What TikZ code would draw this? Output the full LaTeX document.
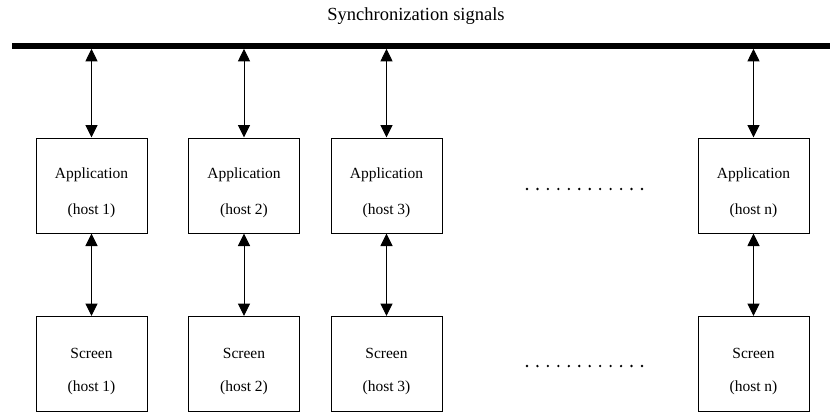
\documentclass[tikz,border=0pt]{standalone}
\usepackage{fontspec}
\setmainfont{Liberation Serif}
\usetikzlibrary{arrows.meta}

\begin{document}
\begin{tikzpicture}[x=1pt,y=-1pt,
  hostbox/.style={draw=black,line width=1pt,minimum width=111pt,minimum height=95pt,inner sep=0pt},
  boxtext/.style={anchor=base,inner sep=0pt,font=\fontsize{15.5}{18}\selectfont},
  link/.style={line width=1pt,{Triangle[length=12.5pt,width=12pt]}-{Triangle[length=12.5pt,width=12pt]}},
  bus/.style={line width=5.5pt},
  dotmark/.style={fill=black}]
  \useasboundingbox (0,0) rectangle (830,413);

  % title above the bus
  \node[anchor=base,inner sep=0pt,font=\fontsize{18.5}{22}\selectfont] (title) at (416,20) {Synchronization signals};

  % synchronization bus
  \coordinate (busL) at (12,46);
  \coordinate (busR) at (830,46);
  \draw[bus] (busL) -- (busR);

  % one column per host: application box over screen box
  \foreach \x/\h in {91.5/1, 244/2, 386.5/3, 753.5/n} {
    \node[hostbox] (app\h) at (\x,185.5) {};
    \node[boxtext] (appname\h) at (\x,178.5) {Application};
    \node[boxtext] (apphost\h) at (\x,214) {(host \h)};

    \node[hostbox] (scr\h) at (\x,364) {};
    \node[boxtext] (scrname\h) at (\x,358) {Screen};
    \node[boxtext] (scrhost\h) at (\x,391.5) {(host \h)};

    \coordinate (tap\h) at (\x,48.8);
    \draw[link] (tap\h) -- (app\h.north);
    \draw[link] (app\h.south) -- (scr\h.north);
  }

  % ellipsis rows between host 3 and host n
  \foreach \k in {0,...,11} {
    \fill[dotmark] (527+\k*10.45,189) circle (1.3);
    \fill[dotmark] (527+\k*10.45,366) circle (1.3);
  }
\end{tikzpicture}
\end{document}
